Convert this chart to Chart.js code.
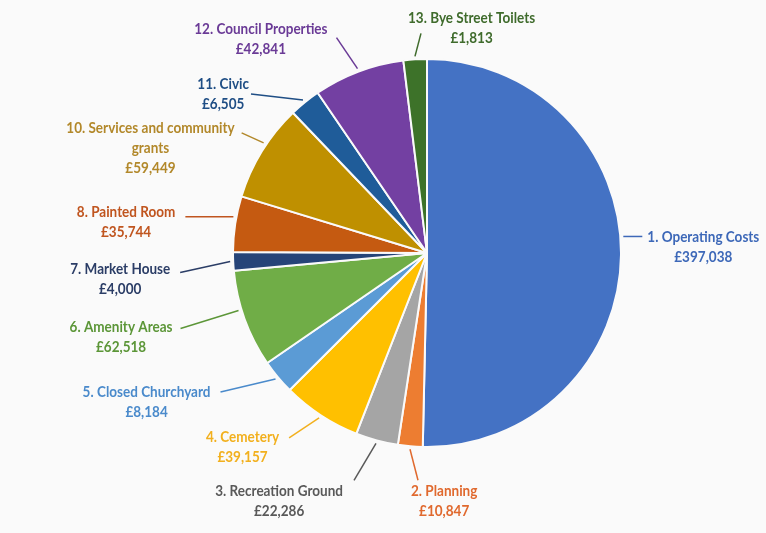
<!DOCTYPE html>
<html>
<head>
<meta charset="utf-8">
<script src="https://cdn.jsdelivr.net/npm/chart.js@4.4.1/dist/chart.umd.min.js"></script>
<style>
  html, body { margin: 0; padding: 0; background: #fafafa; }
  #chartDiv { width: 766px; height: 533px; }
</style>
</head>
<body>
<div id="chartDiv"><canvas id="chart"></canvas></div>
<script>
// budget headings, clockwise from 12 o'clock (there is no heading 9 in the source)
const categories = [
  '1. Operating Costs', '2. Planning', '3. Recreation Ground', '4. Cemetery',
  '5. Closed Churchyard', '6. Amenity Areas', '7. Market House', '8. Painted Room',
  '10. Services and community\ngrants', '11. Civic', '12. Council Properties', '13. Bye Street Toilets'
];
const amounts = [397038, 10847, 22286, 39157, 8184, 62518, 4000, 35744, 59449, 6505, 42841, 1813];
// slice sizes as drawn in the source (degrees), which are not to scale with the amounts
const sliceShares = [181.2, 7.4, 12.7, 23.7, 10.4, 29.3, 5.5, 16.7, 29.3, 9.4, 27.3, 7.0];

const sliceColours = ['#4472c4', '#ed7d31', '#a5a5a5', '#ffc000', '#5b9bd5', '#70ad47',
                      '#264478', '#c55a11', '#bf9000', '#1f5c99', '#7340a2', '#3d7229'];
const textColours = ['#3d68b8', '#e0692e', '#595959', '#f2b01e', '#4a8acb', '#5c9638',
                     '#2b3d66', '#c0551f', '#b2882a', '#1f4e85', '#6a3a96', '#3f6b2c'];

// label layout: [where on the slice edge (0..1), leader dx, leader dy, text dx, text dy, side]
const labelLayout = [
  [0.47, 19, 0, 5, 0, 1],
  [0.5, 8, 31, -7, 11, 1],
  [0.5, -22, 37, -11, 11, -1],
  [0.5, -30, 20, -10, -1, -1],
  [0.5, -55, 13, -10, 0, -1],
  [0.6, -58, 18, -8, -2, -1],
  [0.5, -50, 11, -10, -4, -1],
  [0.62, -48, 0, -10, -5, -1],
  [0.58, -22, -10, -7, -5, -1],
  [0.5, -52, -6, -2, -10, -1],
  [0.5, -21, -31, -9, -9, -1],
  [0.5, 6, -23, -13, -16, 1]
];

const FONT = 'bold 16px Lato, "Open Sans", sans-serif';
const SQUEEZE = 0.845;
const LINE_H = 20;

function money(v) {
  return '£' + v.toLocaleString('en-GB');
}

const calloutPlugin = {
  id: 'callouts',
  afterDatasetsDraw(chart) {
    const ctx = chart.ctx;
    const arcs = chart.getDatasetMeta(0).data;
    ctx.save();
    ctx.font = FONT;
    arcs.forEach((arc, i) => {
      const lay = labelLayout[i];
      const p = arc.getProps(['x', 'y', 'startAngle', 'endAngle', 'outerRadius']);
      const a = p.startAngle + (p.endAngle - p.startAngle) * lay[0];
      const r = p.outerRadius + 3;
      const x0 = p.x + Math.cos(a) * r;
      const y0 = p.y + Math.sin(a) * r;
      const x1 = x0 + lay[1];
      const y1 = y0 + lay[2];

      ctx.strokeStyle = textColours[i];
      ctx.lineWidth = 1.5;
      ctx.beginPath();
      ctx.moveTo(x0, y0);
      ctx.lineTo(x1, y1);
      ctx.stroke();

      const lines = categories[i].split('\n').concat([money(amounts[i])]);
      let w = 0;
      lines.forEach(t => { w = Math.max(w, ctx.measureText(t).width * SQUEEZE); });
      const cx = x1 + lay[3] + lay[5] * w / 2;
      const cy = y1 + lay[4];

      ctx.fillStyle = textColours[i];
      ctx.textAlign = 'center';
      ctx.textBaseline = 'middle';
      lines.forEach((t, k) => {
        ctx.save();
        ctx.translate(cx, cy + k * LINE_H);
        ctx.scale(SQUEEZE, 1);
        ctx.fillText(t, 0, 0);
        ctx.restore();
      });
    });
    ctx.restore();
  }
};

const CHART = document.getElementById('chart');

new Chart(CHART, {
  type: 'pie',
  data: {
    labels: categories,
    datasets: [{
      data: sliceShares,
      backgroundColor: sliceColours,
      borderColor: '#fafafa',
      borderWidth: 2,
      radius: 194
    }]
  },
  options: {
    responsive: true,
    maintainAspectRatio: false,
    animation: false,
    layout: { padding: { left: 88, right: 0, top: 0, bottom: 27 } },
    plugins: {
      legend: { display: false },
      tooltip: { enabled: false }
    }
  },
  plugins: [calloutPlugin]
});
</script>
</body>
</html>
